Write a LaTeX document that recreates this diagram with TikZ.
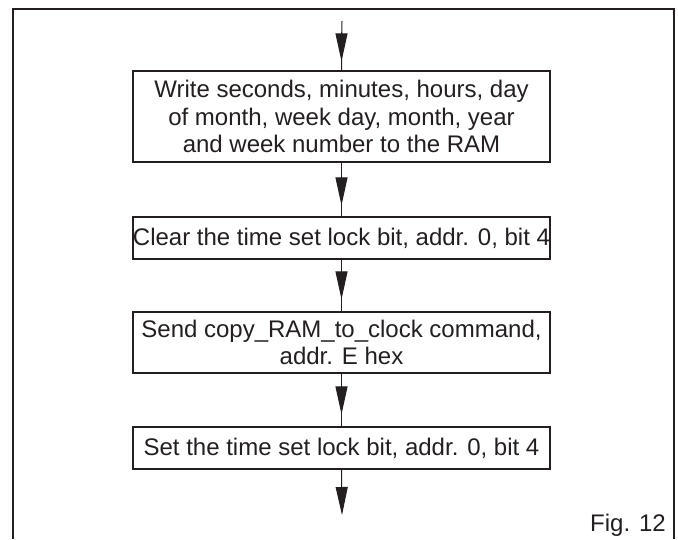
\documentclass[tikz,border=0pt]{standalone}
\usepackage{fontspec}
\setmainfont{Liberation Sans}
\usetikzlibrary{arrows.meta,calc}
\definecolor{ink}{HTML}{231F20}
\begin{document}
\begin{tikzpicture}[x=1pt,y=-1pt,
  stepbox/.style={draw=ink,line width=1.3pt,minimum width=417pt,inner sep=0pt,
    align=center,text=ink,font=\fontsize{24}{27.5}\selectfont},
  flow/.style={draw=ink,line width=1pt},
  headtip/.style={draw=ink,line width=1pt,-{Triangle[length=28pt,width=12pt]}},
  frame/.style={draw=ink,line width=1.5pt}]
\useasboundingbox (0,0) rectangle (678,539);
\draw[frame] (13,539) -- (13,9) -- (674,9) -- (674,539);
\node[stepbox,minimum height=91pt] (b1) at (341.5,116.5)
  {Write seconds, minutes, hours, day\\of month, week day, month, year\\and week number to the RAM};
\node[stepbox,minimum height=42pt] (b2) at (341.5,238)
  {Clear the time set lock bit, addr. 0, bit 4};
\node[stepbox,minimum height=61pt] (b3) at (341.5,342.5)
  {Send copy\_RAM\_to\_clock command,\\addr. E hex};
\node[stepbox,minimum height=42pt] (b4) at (341.5,448)
  {Set the time set lock bit, addr. 0, bit 4};
\coordinate (start) at (342,21);
\coordinate (finish) at (342,515);
\node[anchor=base east,inner sep=0pt,text=ink,font=\fontsize{24}{27.5}\selectfont] (fig) at (666,531) {Fig. 12};
% connectors
\draw[flow] (start) -- (b1.north);
\draw[headtip] ($(b1.north)+(0,-38)$) -- ($(b1.north)+(0,-9)$);
\draw[flow] (b1.south) -- (b2.north);
\draw[headtip] ($(b2.north)+(0,-40)$) -- ($(b2.north)+(0,-11)$);
\draw[flow] (b2.south) -- (b3.north);
\draw[headtip] ($(b3.north)+(0,-41)$) -- ($(b3.north)+(0,-12)$);
\draw[flow] (b3.south) -- (b4.north);
\draw[headtip] ($(b4.north)+(0,-41)$) -- ($(b4.north)+(0,-12)$);
\draw[headtip] (b4.south) -- (finish);
\end{tikzpicture}
\end{document}
